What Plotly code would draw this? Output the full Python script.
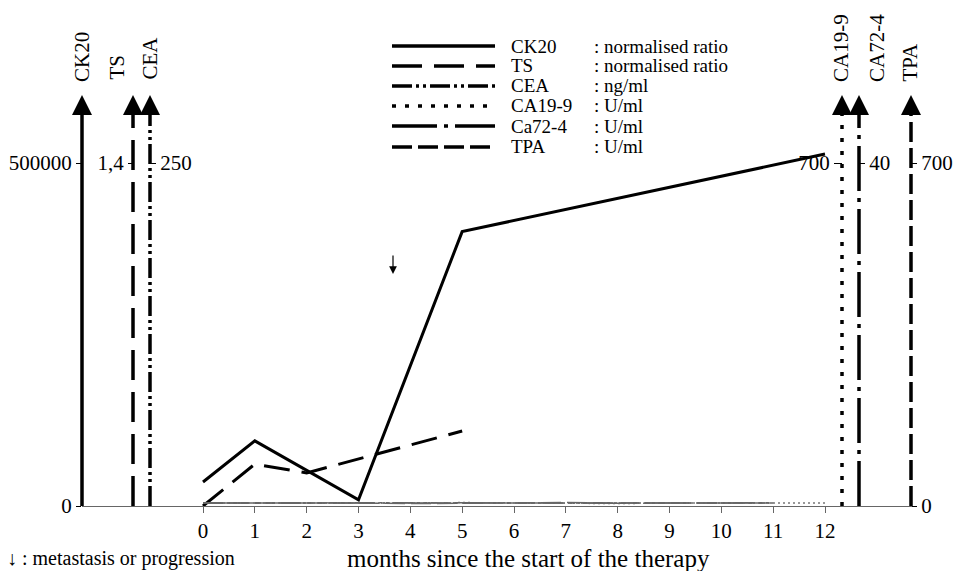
import plotly.graph_objects as go

# ---------------- data ----------------
months_ck20 = [0, 1, 3, 5, 12]
ck20 = [35000, 95000, 9000, 400000, 513000]          # normalised ratio

months_ts = [0, 1, 2, 5]
ts = [0.0, 0.171, 0.135, 0.306]                       # normalised ratio

months_low = [0, 1, 2, 3, 4, 5, 6, 7, 8, 9, 10, 11]
cea = [2.1, 2.3, 2.0, 2.2, 2.4, 2.1, 2.2, 2.3, 2.0, 2.2, 2.1, 2.3]   # ng/ml

months_ca199 = [0, 1, 2, 3, 4, 5, 6, 7, 8, 9, 10, 11, 12]
ca199 = [6, 6, 5, 6, 6, 7, 6, 6, 5, 6, 6, 6, 6]                     # U/ml

ca724 = [0.35, 0.33, 0.36, 0.34, 0.35, 0.37, 0.34, 0.35, 0.33, 0.35, 0.34, 0.36]  # U/ml
tpa = [6, 6, 7, 6, 5, 6, 6, 7, 6, 6, 5, 6]                          # U/ml

axis_names = ["CK20", "TS", "CEA", "CA19-9", "CA72-4", "TPA"]
axis_top_ticks = [500000, 1.4, 250, 700, 40, 700]
axis_top_text = ["500000", "1,4", "250", "700", "40", "700"]

legend_names = ["CK20", "TS", "CEA", "CA19-9", "Ca72-4", "TPA"]
legend_units = [": normalised ratio", ": normalised ratio", ": ng/ml", ": U/ml", ": U/ml", ": U/ml"]

month_ticks = list(range(0, 13))

# ---------------- geometry (pixels) ----------------
FIG_W, FIG_H = 961, 571
L, R, T, B = 82, 912, 95, 506
W, H = R - L, B - T
TOP_TICK_PX = 163
X0_PX, X12_PX = 203, 825


def px(x):
    return (x - L) / W


def py(y):
    return (B - y) / H


per_month = (X12_PX - X0_PX) / 12
xrange_ = [(L - X0_PX) / per_month, (R - X0_PX) / per_month]


def ymax(tick):
    return tick * H / (B - TOP_TICK_PX)


FONT = "Liberation Serif, DejaVu Serif, serif"
dash = {
    "CK20": "solid",
    "TS": "30px,12px",
    "CEA": "20px,4px,3px,4px,3px,4px",
    "CA19-9": "4px,9px",
    "CA72-4": "45px,7px,4px,7px",
    "TPA": "20px,6px",
}

fig = go.Figure()

fig.add_trace(go.Scatter(x=months_ck20, y=ck20, mode="lines", yaxis="y",
                         line=dict(color="black", width=3, dash=dash["CK20"]), showlegend=False))
fig.add_trace(go.Scatter(x=months_ts, y=ts, mode="lines", yaxis="y2",
                         line=dict(color="black", width=3, dash="26px,12px"), showlegend=False))
fig.add_trace(go.Scatter(x=months_low, y=cea, mode="lines", yaxis="y3",
                         line=dict(color="#666", width=1.5, dash=dash["CEA"]), showlegend=False))
fig.add_trace(go.Scatter(x=months_ca199, y=ca199, mode="lines", yaxis="y4",
                         line=dict(color="#777", width=1.5, dash="2px,3px"), showlegend=False))
fig.add_trace(go.Scatter(x=months_low, y=ca724, mode="lines", yaxis="y5",
                         line=dict(color="#666", width=1.5, dash=dash["CA72-4"]), showlegend=False))
fig.add_trace(go.Scatter(x=months_low, y=tpa, mode="lines", yaxis="y6",
                         line=dict(color="#666", width=1.5, dash=dash["TPA"]), showlegend=False))

axis_px = [82, 133, 150, 842, 859, 911]
axis_side = ["left", "left", "right", "left", "right", "right"]
title_px = [(82, 84), (117, 82), (150, 82), (841, 84), (877, 84), (910, 84)]

layout_axes = {}
for i, (name, tick, ttxt, xp, side) in enumerate(zip(axis_names, axis_top_ticks, axis_top_text, axis_px, axis_side)):
    key = "yaxis" if i == 0 else f"yaxis{i + 1}"
    tv = [tick]
    tt = [ttxt]
    if name in ("CK20", "TPA"):
        tv = [0, tick]
        tt = ["0", ttxt]
    ax = dict(range=[0, ymax(tick)], tickvals=tv, ticktext=tt, ticks="outside",
              ticklen=8 if name == "CA19-9" else 5,
              tickwidth=1.2, tickcolor="black", showline=False, showgrid=False, zeroline=False,
              side=side, tickfont=dict(family=FONT, size=21, color="black"), automargin=False)
    if i > 0:
        ax.update(overlaying="y", anchor="free", position=px(xp))
    layout_axes[key] = ax

shapes = []
annotations = []
for name, xp, (tx, ty) in zip(axis_names, axis_px, title_px):
    shapes.append(dict(type="line", xref="paper", yref="paper", x0=px(xp), x1=px(xp),
                       y0=py(B), y1=py(113), line=dict(color="black", width=3.5, dash=dash[name])))
    shapes.append(dict(type="path", xref="paper", yref="paper",
                       path=f"M {px(xp - 10)} {py(115)} L {px(xp + 10)} {py(115)} L {px(xp)} {py(95)} Z",
                       fillcolor="black", line=dict(color="black", width=0)))
    annotations.append(dict(xref="paper", yref="paper", x=px(tx), y=py(ty), text=name, textangle=-90,
                            showarrow=False, xanchor="center", yanchor="bottom",
                            font=dict(family=FONT, size=21, color="black")))

# legend
legend_rows = [46, 66, 86, 106, 126, 147]
for name, unit, row, key in zip(legend_names, legend_units, legend_rows, axis_names):
    shapes.append(dict(type="line", xref="paper", yref="paper", x0=px(392), x1=px(495),
                       y0=py(row), y1=py(row), line=dict(color="black", width=3.5, dash=dash[key])))
    annotations.append(dict(xref="paper", yref="paper", x=px(509), y=py(row), text=name,
                            showarrow=False, xanchor="left", yanchor="middle",
                            font=dict(family=FONT, size=19, color="black")))
    annotations.append(dict(xref="paper", yref="paper", x=px(592), y=py(row), text=unit,
                            showarrow=False, xanchor="left", yanchor="middle",
                            font=dict(family=FONT, size=19, color="black")))

# event arrow (metastasis or progression)
annotations.append(dict(x=(393 - X0_PX) / per_month, y=(B - 274) / (B - TOP_TICK_PX) * 500000,
                        xref="x", yref="y", text="", showarrow=True, ax=0, ay=-20,
                        arrowhead=2, arrowsize=1.3, arrowwidth=1.2, arrowcolor="black"))

annotations.append(dict(xref="paper", yref="paper", x=px(528), y=py(558),
                        text="months since the start of the therapy", showarrow=False,
                        xanchor="center", yanchor="middle",
                        font=dict(family=FONT, size=25, color="black")))
annotations.append(dict(xref="paper", yref="paper", x=px(5), y=py(558),
                        text="↓ : metastasis or progression", showarrow=False,
                        xanchor="left", yanchor="middle",
                        font=dict(family=FONT, size=20, color="black")))

fig.update_layout(
    width=FIG_W, height=FIG_H,
    margin=dict(l=L, r=FIG_W - R, t=T, b=FIG_H - B, pad=0),
    paper_bgcolor="white", plot_bgcolor="white",
    showlegend=False,
    xaxis=dict(range=xrange_, tickvals=month_ticks, ticks="outside", ticklen=6,
               tickcolor="#666", tickwidth=1, showline=True, linecolor="#666", linewidth=1,
               showgrid=False, zeroline=False, automargin=False,
               tickfont=dict(family=FONT, size=21, color="black")),
    shapes=shapes,
    annotations=annotations,
    **layout_axes,
)

fig.write_html("out.html")
